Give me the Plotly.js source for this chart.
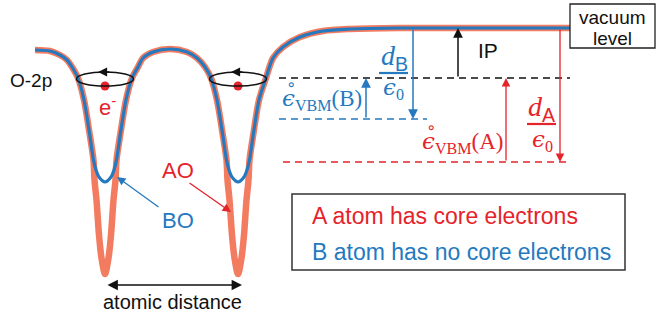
<!DOCTYPE html>
<html>
<head>
<meta charset="utf-8">
<script src="https://cdn.plot.ly/plotly-3.0.1.min.js"></script>
<style>html,body{margin:0;padding:0;background:#fff}#chart{width:658px;height:318px}</style>
</head>
<body>
<div id="chart"></div>
<script>
// Potential curves (schematic)
const aoX = [35,50,60,67,72,78,84,89.5,93.5,94.5,96.5,99,101.5,105,108.5,111,113.5,115.5,116.5,120.5,126,132,138,143,153,170,187,197,205,211,217,222.5,226.5,227.5,229.5,232,234.5,238,241.5,244,246.5,248.5,249.5,253.5,259,266,273,283,300,323,350,400,570];
const aoY = [50,51,55,60,67,78,100,133,160,180,200,235,258,274,258,235,200,180,160,133,100,78,67,58,52,49,52,58,67,78,100,133,160,180,200,235,258,274,258,235,200,180,160,133,100,78,58,47,37,31,29,28,28];
const boX = [35,50,60,67,72,78,84,89.5,93.5,96,99,105,111,114,116.5,120.5,126,132,138,143,153,170,187,197,205,211,217,222.5,226.5,229,232,238,244,247,249.5,253.5,259,266,273,283,300,323,350,400,570];
const boY = [50,51,55,60,67,78,100,133,160,170,177,182,177,170,160,133,100,78,67,58,52,49,52,58,67,78,100,133,160,170,177,182,177,170,160,133,100,78,58,47,37,31,29,28,28];
// Energy levels
const vacuumLevel = 28;
const vbmLevels = [78, 119, 162];          // common VBM, B, A
const levelStart = [279, 279, 283];
const levelEnd = [570, 427, 570];
const electronX = [105, 238];
const electronY = [86, 86];
const legendLines = ["A atom has core electrons", "B atom has no core electrons"];

const RED = '#e5232b', BLUE = '#2479bf', ORANGE = '#f37b60', BLACK = '#111';
const SANS = 'Liberation Sans, Arial, sans-serif';
const SERIF = 'Liberation Serif, DejaVu Serif, serif';
const EPS = '<span style="font-family:DejaVu Serif;font-style:italic">ϵ</span>';

const levelColors = [BLACK, BLUE, RED];
const traces = [
  {x: aoX, y: aoY, mode: 'lines', line: {color: ORANGE, width: 6.5, shape: 'spline', smoothing: 0.8}, hoverinfo: 'skip'},
  {x: boX, y: boY, mode: 'lines', line: {color: BLUE, width: 3.2, shape: 'spline', smoothing: 0.8}, hoverinfo: 'skip'}
];
vbmLevels.forEach((y, i) => {
  traces.push({x: [levelStart[i], levelEnd[i]], y: [y, y], mode: 'lines',
    line: {color: levelColors[i], width: 1.3, dash: '7px,5px'}, hoverinfo: 'skip'});
});
traces.push({x: electronX, y: electronY, mode: 'markers', marker: {color: RED, size: 9}, hoverinfo: 'skip'});

const ann = [];
function arrow(x0, y0, x1, y1, color, w, both) {
  ann.push({x: x1, y: y1, ax: x0, ay: y0, xref: 'x', yref: 'y', axref: 'x', ayref: 'y',
    text: '', showarrow: true, arrowhead: 2, arrowsize: 1.3, arrowwidth: w || 1.4,
    arrowcolor: color, arrowside: both ? 'end+start' : 'end', standoff: 0, startstandoff: 0});
}
function txt(x, y, text, color, size, family, xanchor) {
  ann.push({x: x, y: y, xref: 'x', yref: 'y', text: text, showarrow: false,
    font: {color: color, size: size, family: family || SANS}, xanchor: xanchor || 'center', yanchor: 'middle'});
}
// orbit arrows
electronX.forEach(c => arrow(c + 6, 72, c - 7, 72, BLACK, 1.4));
// vertical arrows
arrow(413, vacuumLevel, 413, vbmLevels[1], BLUE, 1.5);
arrow(366, vbmLevels[1], 366, vbmLevels[0], BLUE, 1.5);
arrow(458, vbmLevels[0], 458, vacuumLevel, BLACK, 1.5);
arrow(506, vbmLevels[2], 506, vbmLevels[0], RED, 1.3);
arrow(560, vacuumLevel, 560, vbmLevels[2], RED, 1.3);
// AO / BO pointers
arrow(188, 182, 231, 212, RED, 1.3);
arrow(160, 208, 117, 177, BLUE, 1.3);
// atomic distance
arrow(106, 285, 242, 285, BLACK, 1.6, true);

txt(8, 80, 'O-2p', BLACK, 19, SANS, 'left');
txt(97, 106, 'e<sup>-</sup>', RED, 22, SANS, 'left');
txt(178, 170, 'AO', RED, 22);
txt(178, 220, 'BO', BLUE, 22);
txt(172, 302, 'atomic distance', BLACK, 20);
txt(488, 50, 'IP', BLACK, 21);
txt(612, 17, 'vacuum', BLACK, 19);
txt(612, 38, 'level', BLACK, 19);
txt(310, 216, legendLines[0], RED, 23, SANS, 'left');
txt(310, 252, legendLines[1], BLUE, 23, SANS, 'left');
// math labels
txt(280, 99, EPS + '<sub>VBM</sub>(B)', BLUE, 23, SERIF, 'left');
txt(291, 84, '∘', BLUE, 16, 'DejaVu Sans');
txt(420, 142, EPS + '<sub>VBM</sub>(A)', RED, 23, SERIF, 'left');
txt(431, 127, '∘', RED, 16, 'DejaVu Sans');
txt(394, 57, '<i>d</i><span style="font-family:Liberation Sans"><sub>B</sub></span>', BLUE, 28, SERIF);
txt(393, 88, EPS + '<sub>0</sub>', BLUE, 23, SERIF);
txt(542, 108, '<i>d</i><span style="font-family:Liberation Sans"><sub>A</sub></span>', RED, 28, SERIF);
txt(542, 140, EPS + '<sub>0</sub>', RED, 23, SERIF);

const shapes = [
  {type: 'circle', xref: 'x', yref: 'y', x0: 76.5, x1: 133.5, y0: 72, y1: 86, line: {color: BLACK, width: 1.4}},
  {type: 'circle', xref: 'x', yref: 'y', x0: 209.5, x1: 266.5, y0: 72, y1: 86, line: {color: BLACK, width: 1.4}},
  {type: 'line', xref: 'x', yref: 'y', x0: 379, x1: 408, y0: 73, y1: 73, line: {color: BLUE, width: 2.2}},
  {type: 'line', xref: 'x', yref: 'y', x0: 527, x1: 556, y0: 124, y1: 124, line: {color: RED, width: 2.2}},
  {type: 'rect', xref: 'x', yref: 'y', x0: 570, x1: 655, y0: 4, y1: 48, line: {color: '#222', width: 1.3}},
  {type: 'rect', xref: 'x', yref: 'y', x0: 292, x1: 625, y0: 194, y1: 270, line: {color: '#333', width: 1.5}}
];

const layout = {
  width: 658, height: 318, margin: {l: 0, r: 0, t: 0, b: 0},
  paper_bgcolor: '#fff', plot_bgcolor: '#fff', showlegend: false,
  xaxis: {range: [0, 658], visible: false, fixedrange: true},
  yaxis: {range: [318, 0], visible: false, fixedrange: true},
  annotations: ann, shapes: shapes
};
Plotly.newPlot('chart', traces, layout, {staticPlot: true, displayModeBar: false});
</script>
</body>
</html>
